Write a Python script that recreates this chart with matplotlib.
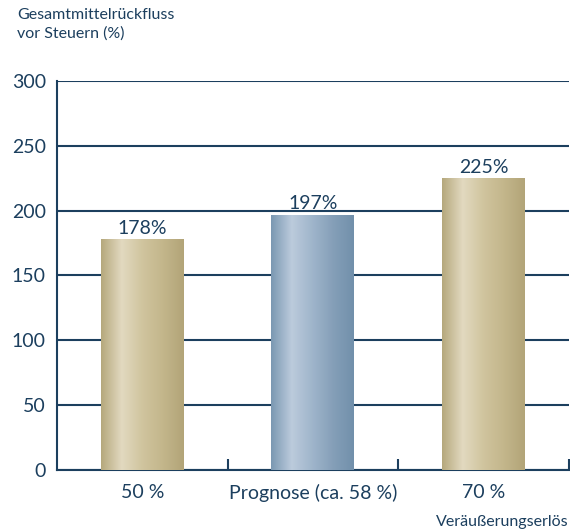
import numpy as np
import matplotlib.pyplot as plt
from matplotlib.colors import LinearSegmentedColormap

categories = ["50 %", "Prognose (ca. 58 %)", "70 %"]
values = [178, 197, 225]
labels = ["178%", "197%", "225%"]

navy = "#1c3f5e"
gold = ["#b5a87c", "#e2d9c0", "#d0c49e", "#c3b68b", "#b2a478"]
blue = ["#7a98b2", "#bccbdc", "#9fb5cb", "#859fb8", "#7190ab"]
bar_colors = [gold, blue, gold]

plt.rcParams["font.family"] = ["Lato", "DejaVu Sans"]

fig = plt.figure(figsize=(5.7, 5.31), dpi=100)
ax = fig.add_axes([0.1, 0.115, 0.898, 0.7325])

x = np.arange(len(categories))
bars = ax.bar(x, values, width=0.486, color="none", zorder=3)

grad = np.linspace(0, 1, 256).reshape(1, -1)
for b, cols in zip(bars, bar_colors):
    cmap = LinearSegmentedColormap.from_list("g", list(zip([0, 0.25, 0.5, 0.75, 1], cols)))
    x0, y0 = b.get_x(), b.get_y()
    im = ax.imshow(grad, cmap=cmap, aspect="auto", zorder=3,
                   extent=[x0, x0 + b.get_width(), y0, y0 + b.get_height()])
    im.set_clip_path(b)

for xi, v, lab in zip(x, values, labels):
    ax.text(xi, v + 2, lab, ha="center", va="bottom", fontsize=14, color=navy, zorder=4)

ax.set_xlim(-0.5, 2.5)
ax.set_ylim(0, 300)
ax.set_yticks(range(0, 301, 50))
ax.set_xticks(x)
ax.set_xticklabels(categories)
ax.set_xticks([0.5, 1.5, 2.5], minor=True)
ax.tick_params(axis="x", which="major", length=0, pad=10, labelsize=14, labelcolor=navy)
ax.tick_params(axis="x", which="minor", direction="in", length=8, width=1.5, color=navy)
ax.tick_params(axis="y", length=0, pad=8, labelsize=14, labelcolor=navy)

ax.grid(axis="y", color=navy, linewidth=1.5, zorder=1)
ax.set_axisbelow(True)
for s in ["top", "right"]:
    ax.spines[s].set_visible(False)
for s in ["left", "bottom"]:
    ax.spines[s].set_color(navy)
    ax.spines[s].set_linewidth(1.5)

fig.text(17 / 570, 1 - 8 / 531, "Gesamtmittelrückfluss\nvor Steuern (%)", ha="left", va="top",
         fontsize=11.5, color=navy, linespacing=1.35)
fig.text(569 / 570, 1 - 529 / 531, "Veräußerungserlös", ha="right", va="bottom",
         fontsize=11.5, color=navy)

fig.savefig("out.png", dpi=100)
